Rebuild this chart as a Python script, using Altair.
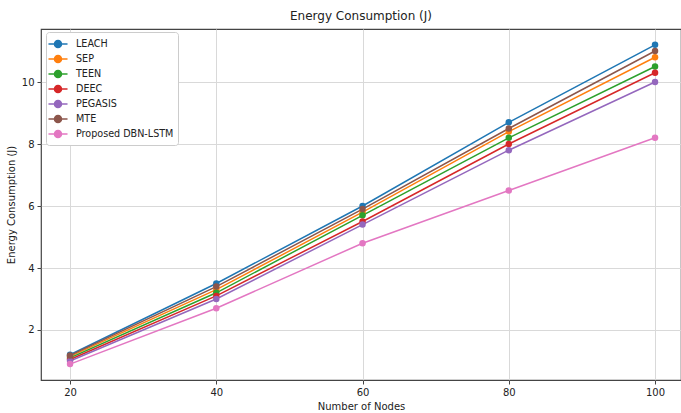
import altair as alt
import pandas as pd

nodes = [20, 40, 60, 80, 100]
series_names = ["LEACH", "SEP", "TEEN", "DEEC", "PEGASIS", "MTE", "Proposed DBN-LSTM"]
leach = [1.2, 3.5, 6.0, 8.7, 11.2]
sep = [1.15, 3.3, 5.8, 8.4, 10.8]
teen = [1.1, 3.2, 5.7, 8.2, 10.5]
deec = [1.05, 3.1, 5.5, 8.0, 10.3]
pegasis = [1.0, 3.0, 5.4, 7.8, 10.0]
mte = [1.18, 3.4, 5.9, 8.5, 11.0]
proposed = [0.9, 2.7, 4.8, 6.5, 8.2]
colors = ["#1f77b4", "#ff7f0e", "#2ca02c", "#d62728", "#9467bd", "#8c564b", "#e377c2"]

values = [leach, sep, teen, deec, pegasis, mte, proposed]
rows = []
for i, (name, vals) in enumerate(zip(series_names, values)):
    for n, v in zip(nodes, vals):
        rows.append({"Nodes": n, "Energy": v, "Method": name, "order": i})
df = pd.DataFrame(rows)

font = "DejaVu Sans"
color_scale = alt.Scale(domain=series_names, range=colors)
x_enc = alt.X("Nodes:Q", scale=alt.Scale(domain=[16.03, 103.55], nice=False, zero=False),
              axis=alt.Axis(values=nodes, title="Number of Nodes", format="d"))
y_enc = alt.Y("Energy:Q", scale=alt.Scale(domain=[0.387, 11.71], nice=False, zero=False),
              axis=alt.Axis(values=[2, 4, 6, 8, 10], title="Energy Consumption (J)", format="d"))

# symbolSize 196 -> 1 unit = 7 px; line half-length 9.5 px, marker radius 3.5 px
legend_symbol = "M -1.36 0 L 1.36 0 M 0.5 0 A 0.5 0.5 0 1 1 -0.5 0 A 0.5 0.5 0 1 1 0.5 0 Z"

lines = alt.Chart(df).mark_line(strokeWidth=1.5, clip=True).encode(
    x=x_enc, y=y_enc,
    color=alt.Color("Method:N", scale=color_scale, sort=series_names,
                    legend=alt.Legend(title=None, orient="none", legendX=5, legendY=3,
                                      symbolType=legend_symbol, symbolSize=196,
                                      symbolStrokeWidth=1.5, symbolFillColor=None,
                                      labelFontSize=9.6, labelFont=font, labelColor="#222",
                                      rowPadding=0, padding=4, labelOffset=10,
                                      fillColor="white", strokeColor="#cccccc",
                                      cornerRadius=3)),
    order=alt.Order("order:Q"),
    detail="Method:N",
)
points = alt.Chart(df).mark_point(filled=True, size=42, opacity=1, clip=True).encode(
    x=x_enc, y=y_enc,
    color=alt.Color("Method:N", scale=color_scale, sort=series_names, legend=None),
)

chart = alt.layer(lines, points).properties(
    width=640, height=351,
    title=alt.TitleParams("Energy Consumption (J)", font=font, fontSize=12, fontWeight="normal",
                          color="#222", offset=6),
    padding={"left": 41, "top": 29, "right": 0, "bottom": 33},
    autosize="none",
).configure_view(stroke="#444", strokeWidth=1.2).configure_axis(
    grid=True, gridColor="#d9d9d9", gridWidth=1,
    domain=False, tickColor="#444", tickSize=4,
    labelFont=font, labelFontSize=10, labelColor="#222",
    titleFont=font, titleFontSize=10, titleFontWeight="normal", titleColor="#222",
).configure_axisX(titlePadding=4, labelPadding=3).configure_axisY(titlePadding=5, labelPadding=3)

chart.save("out.html", embed_options={"renderer": "svg", "actions": False})
